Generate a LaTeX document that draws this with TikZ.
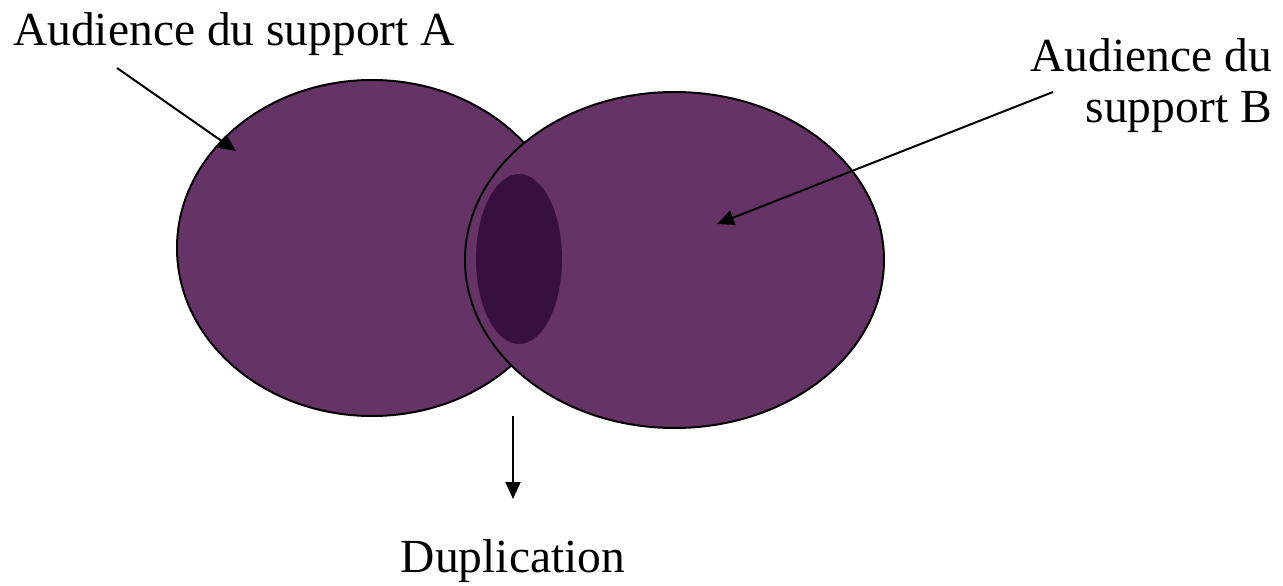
\documentclass[tikz,border=0pt]{standalone}
\usepackage{fontspec}
\setmainfont{Liberation Serif}
\usetikzlibrary{shapes.geometric,arrows.meta}
\definecolor{aud}{HTML}{663366}
\definecolor{dup}{HTML}{381040}
\begin{document}
\begin{tikzpicture}[x=1pt,y=-1pt,
  circ/.style={ellipse,draw=black,line width=2pt,fill=aud,inner sep=0pt},
  inner/.style={ellipse,fill=dup,inner sep=0pt},
  lbl/.style={font=\fontsize{47.5}{51}\selectfont,inner sep=0pt},
  pointer/.style={line width=2pt,-{Triangle[length=17pt,width=15pt]}}]
\useasboundingbox (0,0) rectangle (1283,586);
\node[circ,minimum width=390pt,minimum height=336pt] (A) at (372,248) {};
\node[circ,minimum width=419pt,minimum height=336pt] (B) at (674.5,260) {};
\node[inner,minimum width=86pt,minimum height=170pt] (D) at (519,259) {};
\node[lbl,anchor=base west] (tA) at (13,46) {Audience du support A};
\node[lbl,anchor=base east,align=right] (tB) at (1272,122) {Audience du\\support B};
\node[lbl,anchor=base] (tD) at (513,572) {Duplication};
\coordinate (sA) at (117,68);
\coordinate (eA) at (236,151);
\coordinate (sB) at (1053,92);
\coordinate (eB) at (717,224);
\coordinate (sD) at (513,416);
\coordinate (eD) at (513,499);
\draw[pointer] (sA) -- (eA);
\draw[pointer] (sB) -- (eB);
\draw[pointer] (sD) -- (eD);
\end{tikzpicture}
\end{document}
